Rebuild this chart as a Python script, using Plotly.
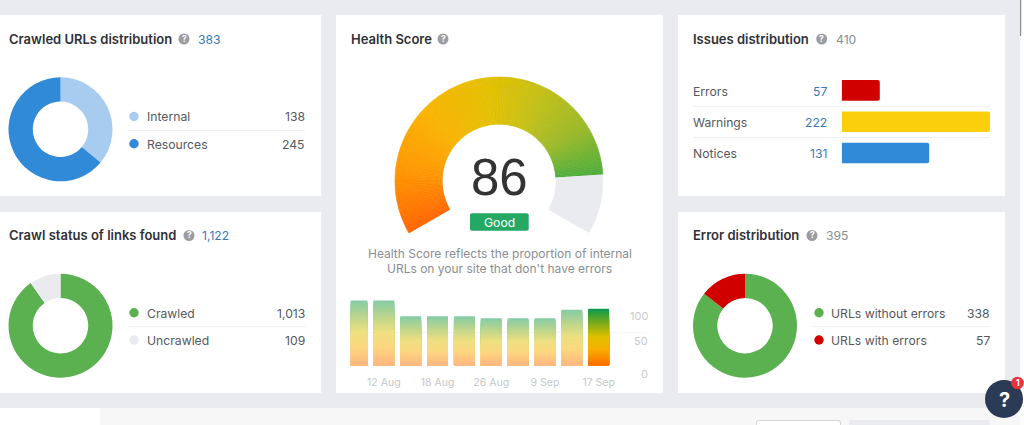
import plotly.graph_objects as go

# ---------- data ----------
crawled_labels = ["Internal", "Resources"]
crawled_values = [138, 245]
status_labels = ["Crawled", "Uncrawled"]
status_values = [1013, 109]
error_labels = ["URLs without errors", "URLs with errors"]
error_values = [338, 57]
issue_labels = ["Errors", "Warnings", "Notices"]
issue_values = [57, 222, 131]
health_score = 86
history_positions = [0, 1, 2, 3, 4, 5, 6, 7, 8, 9]
history_values = [98.5, 98.5, 74.5, 74.5, 74.5, 71.5, 71.5, 71.5, 84.5, 86]
history_ticks = [1, 3, 5, 7, 9]
history_tick_labels = ["12 Aug", "18 Aug", "26 Aug", "9 Sep", "17 Sep"]
score_ticks = ["100", "50", "0"]

W, H = 1024, 425
INTER = "Inter, 'Noto Sans', sans-serif"
BG = "#e9ebee"
DARK = "#2f3139"
TEXT = "#55585f"
BLUE = "#3b78b8"
GREEN = "#5bb050"
RED = "#d00000"
LBLUE = "#a8ccf0"
MBLUE = "#318ad8"
LINE = "#eeeff1"


def X(px):
    return px / W


def Y(py):
    return 1 - py / H


def hex2rgb(c):
    return tuple(int(c[i:i + 2], 16) for i in (1, 3, 5))


def ramp(stops, t):
    for (a, ca), (b, cb) in zip(stops, stops[1:]):
        if t <= b:
            f = (t - a) / (b - a)
            ra, rb = hex2rgb(ca), hex2rgb(cb)
            return tuple(ra[i] + (rb[i] - ra[i]) * f for i in range(3))
    return hex2rgb(stops[-1][1])


def css(rgb, fade=0.0):
    r = [round(v + (255 - v) * fade) for v in rgb]
    return f"rgb({r[0]},{r[1]},{r[2]})"


shapes, annos = [], []


def rect(x0, y0, x1, y1, fill, line=None, layer="below"):
    shapes.append(dict(type="rect", xref="paper", yref="paper", x0=X(x0), x1=X(x1), y0=Y(y0), y1=Y(y1),
                       fillcolor=fill, line=dict(width=1 if line else 0, color=line or fill), layer=layer))


def rrect(x0, y0, x1, y1, r, fill, layer="below"):
    sx = lambda v: f"{X(v):.5f}"
    sy = lambda v: f"{Y(v):.5f}"
    path = (f"M{sx(x0 + r)},{sy(y0)} L{sx(x1 - r)},{sy(y0)} Q{sx(x1)},{sy(y0)} {sx(x1)},{sy(y0 + r)} "
            f"L{sx(x1)},{sy(y1 - r)} Q{sx(x1)},{sy(y1)} {sx(x1 - r)},{sy(y1)} "
            f"L{sx(x0 + r)},{sy(y1)} Q{sx(x0)},{sy(y1)} {sx(x0)},{sy(y1 - r)} "
            f"L{sx(x0)},{sy(y0 + r)} Q{sx(x0)},{sy(y0)} {sx(x0 + r)},{sy(y0)} Z")
    shapes.append(dict(type="path", xref="paper", yref="paper", path=path, fillcolor=fill,
                       line=dict(width=0), layer=layer))


def circle(cx, cy, r, fill, layer="below"):
    shapes.append(dict(type="circle", xref="paper", yref="paper", x0=X(cx - r), x1=X(cx + r),
                       y0=Y(cy - r), y1=Y(cy + r), fillcolor=fill, line=dict(width=0), layer=layer))


def hline(x0, x1, y, color=LINE):
    shapes.append(dict(type="line", xref="paper", yref="paper", x0=X(x0), x1=X(x1), y0=Y(y), y1=Y(y),
                       line=dict(width=1, color=color), layer="below"))


def text(x, y, s, size=12.2, color=TEXT, anchor="left", weight=None, family=INTER):
    font = dict(size=size, color=color, family=family)
    if weight:
        font["weight"] = weight
    annos.append(dict(xref="paper", yref="paper", x=X(x), y=Y(y), text=s, showarrow=False, xanchor=anchor,
                      yanchor="middle", font=font, borderpad=0, borderwidth=0))


def header(x, y, title, icon_x, count, count_x, count_color):
    text(x, y, title, size=13, color=DARK, weight=600)
    circle(icon_x, y, 5.5, "#9b9da0")
    text(icon_x, y, "?", size=8.5, color="#ffffff", anchor="center", weight=700)
    if count:
        text(count_x, y, count, size=12.2, color=count_color)


def legend_rows(dot_x, text_x, right, line_x, y1, y2, labels, values, colors):
    hline(line_x, right, (y1 + y2) / 2 + 0.3)
    for y, lab, val, col in zip((y1, y2), labels, values, colors):
        circle(dot_x, y, 4.7, col)
        text(text_x, y + 0.3, lab)
        text(right, y + 0.3, f"{val:,}", anchor="right")


# ---------- page background and cards ----------
rect(0, 15, 321, 196, "#ffffff")
rect(0, 212, 321, 393, "#ffffff")
rect(336, 15, 663, 393, "#ffffff")
rect(678, 15, 1005, 196, "#ffffff")
rect(678, 212, 1005, 393, "#ffffff")
rect(0, 408, 100, 425, "#ffffff")
rect(100, 408, 1020, 425, "#f7f7f8")
rect(1020, 0, 1024, 425, "#fdfdfd")
rect(1020, 0, 1021.2, 36, "#8c8c8c")
rrect(756, 420, 841, 432, 3, "#d5d7da")
rrect(757, 421, 840, 432, 2, "#ffffff")
rrect(849, 420, 990, 432, 3, BG)

# ---------- headers and legends ----------
header(9, 39, "Crawled URLs distribution", 184, f"{sum(crawled_values):,}", 198, BLUE)
header(9, 235.5, "Crawl status of links found", 189, f"{sum(status_values):,}", 202, BLUE)
header(351, 39, "Health Score", 443, "", 455, BLUE)
header(693, 39, "Issues distribution", 821.7, f"{sum(issue_values):,}", 836, "#8b8e94")
header(693, 235.5, "Error distribution", 812, f"{sum(error_values):,}", 825.7, "#8b8e94")

legend_rows(134, 146.5, 305, 128, 116.5, 143.7, crawled_labels, crawled_values, [LBLUE, MBLUE])
legend_rows(134, 146.5, 305, 128, 312.7, 340, status_labels, status_values, [GREEN, BG])
legend_rows(819, 831.3, 990, 812, 312.7, 340, error_labels, error_values, [GREEN, RED])

# ---------- gauge text ----------
text(499.5, 177, str(health_score), size=51, color="#333333", anchor="center", family="'Liberation Sans', Arial, sans-serif")
rrect(470, 213.3, 528.7, 230.7, 2, "#26a865", layer="above")
text(499.5, 222, "Good", size=12.2, color="#ffffff", anchor="center")
text(499.5, 253.5, "Health Score reflects the proportion of internal", size=12, color="#8b8e94", anchor="center")
text(499.5, 268.8, "URLs on your site that don't have errors", size=12, color="#8b8e94", anchor="center")

# ---------- issue table text ----------
for y, lab, val in zip((91, 122, 153.5), issue_labels, issue_values):
    text(693, y, lab)
    text(826.7, y, f"{val:,}", color=BLUE, anchor="right")
hline(693, 990, 106.3)
hline(693, 990, 137.5)

# ---------- y labels of the history chart ----------
for y, lab in zip((315.7, 341, 374), score_ticks):
    text(647.7, y, lab, size=11, color="#c9cbce", anchor="right")

# ---------- help button ----------
circle(1004, 399, 19, "#2b3a55", layer="above")
text(1004, 399.5, "?", size=20, color="#ffffff", anchor="center", weight=700)
circle(1017.5, 383, 6.3, "#e8333a", layer="above")
text(1017.5, 383, "1", size=8.5, color="#ffffff", anchor="center", weight=700)

fig = go.Figure()


def donut(cx, cy, r, values, colors, hole=0.533, rotation=0):
    fig.add_trace(go.Pie(values=values, marker=dict(colors=colors, line=dict(width=0)), hole=hole, sort=False,
                         direction="clockwise", rotation=rotation, textinfo="none", hoverinfo="skip",
                         showlegend=False, domain=dict(x=[X(cx - r), X(cx + r)], y=[Y(cy + r), Y(cy - r)])))


donut(60.5, 129.3, 52, crawled_values, [LBLUE, MBLUE])
donut(60.5, 325.7, 52, status_values, [GREEN, BG])
donut(745, 325.7, 52, error_values, [GREEN, RED])

# ---------- gauge: score part split into thin slices to carry the gradient ----------
GAUGE_STOPS = [(0, "#ff6600"), (0.17, "#ff9500"), (0.35, "#f9b300"), (0.55, "#e3c000"),
               (0.70, "#c5c015"), (0.87, "#98b828"), (1, "#50ae3c")]
STEP = 0.5
n = int(health_score / STEP)
g_values = [STEP] * n + [100 - health_score, 50]
g_colors = [css(ramp(GAUGE_STOPS, i / (n - 1))) for i in range(n)] + [BG, "rgba(0,0,0,0)"]
g_lines = [c for c in g_colors[:-2]] + [BG, "rgba(0,0,0,0)"]
g_widths = [0.6] * n + [0, 0]
fig.add_trace(go.Pie(values=g_values, marker=dict(colors=g_colors, line=dict(color=g_lines, width=g_widths)),
                     hole=0.546, sort=False, direction="clockwise", rotation=240, textinfo="none",
                     hoverinfo="skip", showlegend=False,
                     domain=dict(x=[X(499 - 104), X(499 + 104)], y=[Y(181 + 104), Y(181 - 104)])))

# ---------- history bars: nested bars, tallest drawn first, carry a vertical gradient ----------
BAR_STOPS = [(0, "#ff6a00"), (0.30, "#f9b000"), (0.52, "#dcc000"), (0.76, "#7aab1a"), (1, "#0b9a4c")]
BANDS = 50
for k in range(BANDS):
    frac = 1 - k / BANDS
    col = ramp(BAR_STOPS, frac)
    colors = [css(col, 0.0 if i == len(history_values) - 1 else 0.5) for i in range(len(history_values))]
    fig.add_trace(go.Bar(x=history_positions, y=[v * frac for v in history_values], width=0.776,
                         marker=dict(color=colors, line=dict(width=0)), showlegend=False, hoverinfo="skip",
                         xaxis="x", yaxis="y"))

# ---------- issue bars ----------
fig.add_trace(go.Bar(y=issue_labels, x=issue_values, orientation="h", width=0.66,
                     marker=dict(color=[RED, "#fccf0d", MBLUE], line=dict(width=0), cornerradius=2),
                     showlegend=False, hoverinfo="skip", xaxis="x2", yaxis="y2"))

px_per_unit = 26.85
x_first = 383.83
fig.update_layout(
    width=W, height=H, autosize=False, margin=dict(l=0, r=0, t=0, b=0),
    paper_bgcolor=BG, plot_bgcolor="rgba(0,0,0,0)", barmode="overlay", showlegend=False,
    font=dict(family=INTER, color=TEXT, size=12), shapes=shapes, annotations=annos,
    xaxis=dict(domain=[X(350.7), X(646.7)], range=[1 + (350.7 - x_first) / px_per_unit, 1 + (646.7 - x_first) / px_per_unit],
               tickmode="array", tickvals=history_ticks, ticktext=history_tick_labels, showgrid=False, zeroline=False,
               showline=False, ticks="outside", ticklen=7, tickcolor="rgba(0,0,0,0)", fixedrange=True,
               tickfont=dict(size=10.5, color="#c5c7cb", family=INTER), anchor="y"),
    yaxis=dict(domain=[Y(365.4), Y(299.4)], range=[0, 100], tickmode="array", tickvals=[0, 50, 100], showticklabels=False,
               showgrid=True, gridcolor="#f3f4f5", gridwidth=1, zeroline=False, showline=False, ticks="", fixedrange=True,
               anchor="x"),
    xaxis2=dict(domain=[X(841.7), X(990)], range=[0, 222], visible=False, fixedrange=True, anchor="y2"),
    yaxis2=dict(domain=[Y(168.6), Y(74.8)], categoryorder="array", categoryarray=issue_labels, autorange="reversed",
                visible=False, fixedrange=True, anchor="x2"),
)

fig.write_html("out.html", config=dict(displayModeBar=False),
               post_script="document.documentElement.style.overflow='hidden';document.body.style.margin='0';document.body.style.overflow='hidden';")
